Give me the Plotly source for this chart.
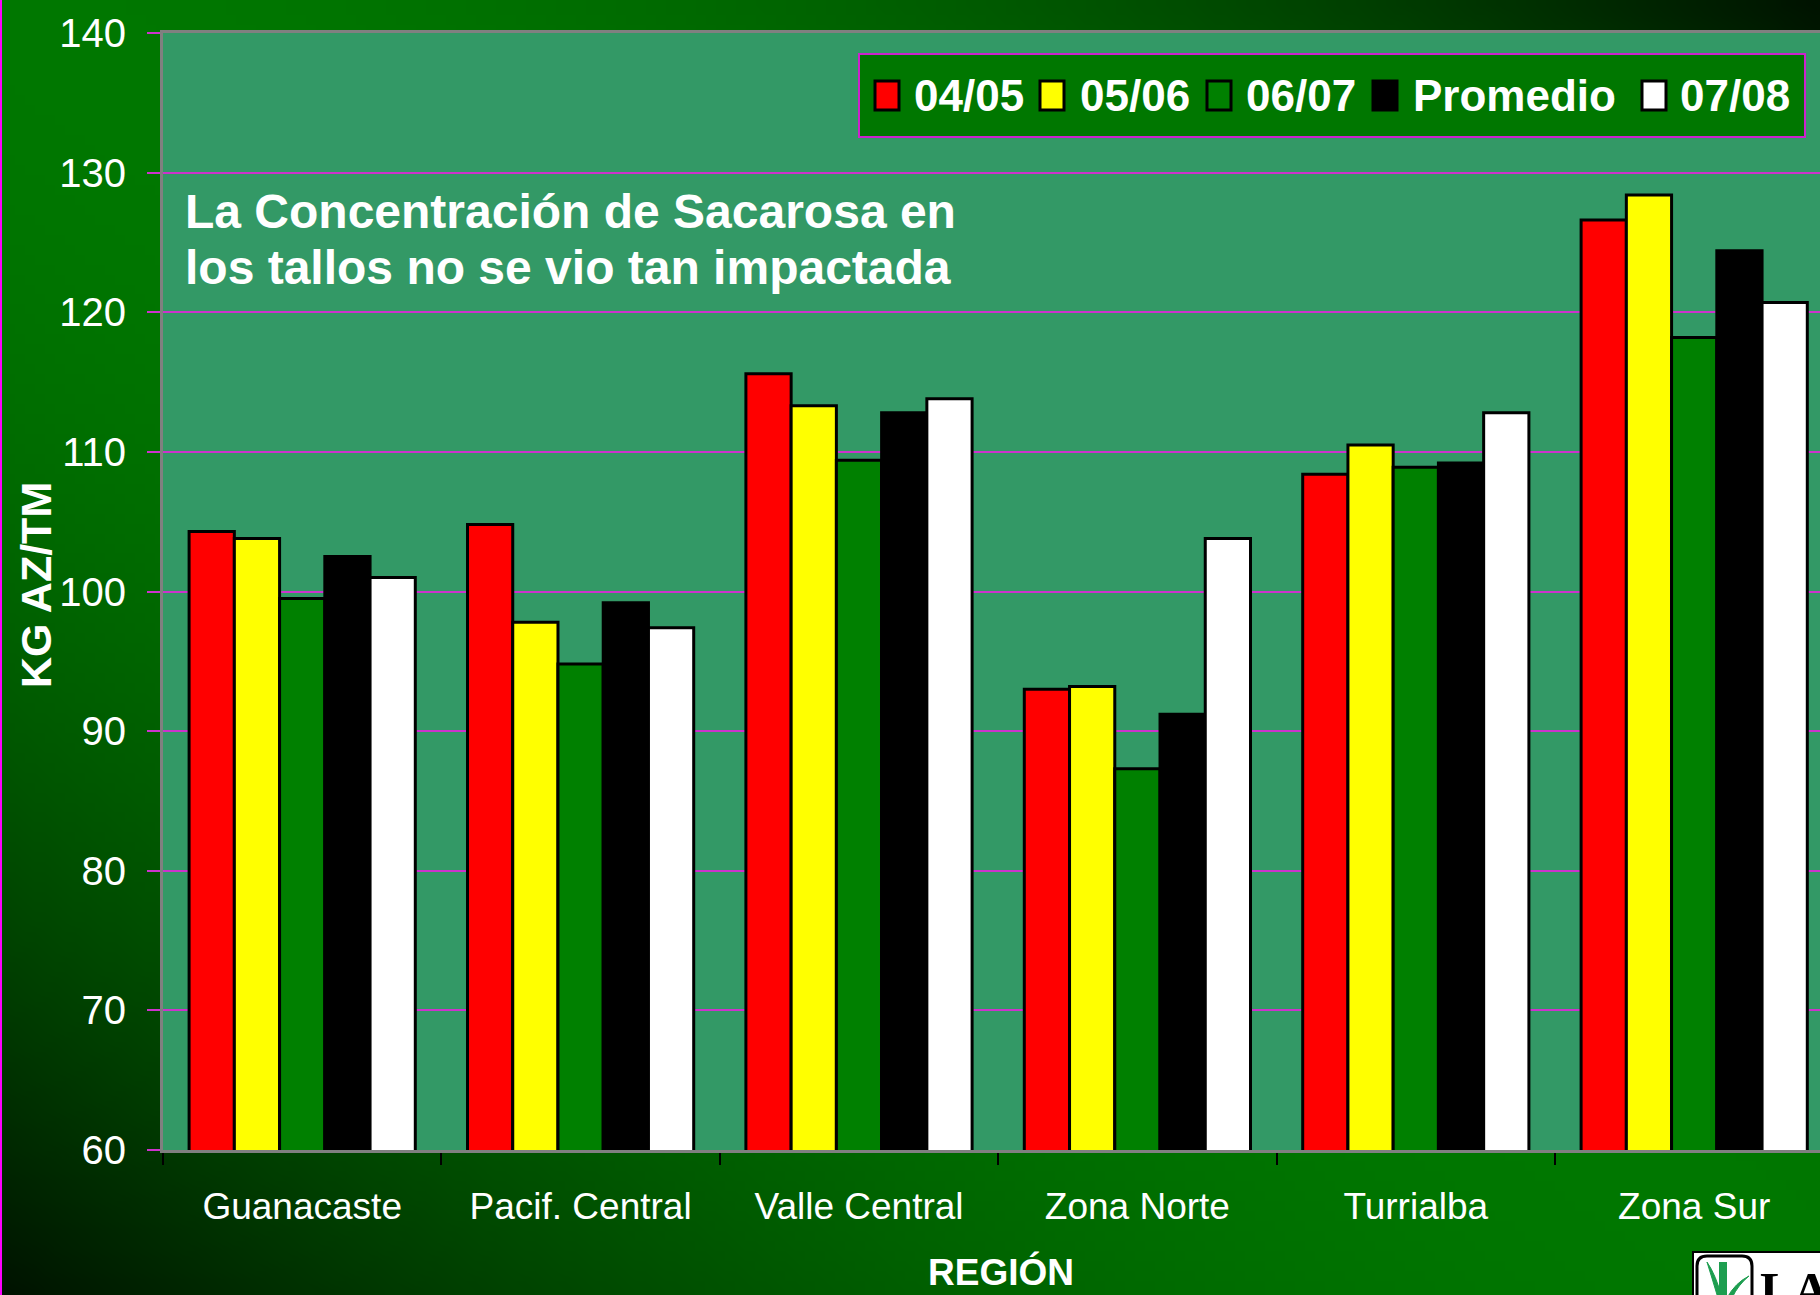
import base64
import struct
import zlib
import plotly.graph_objects as go

# ---------------- data ----------------
categories = ["Guanacaste", "Pacif. Central", "Valle Central", "Zona Norte", "Turrialba", "Zona Sur"]
series_names = ["04/05", "05/06", "06/07", "Promedio", "07/08"]
v_0405 = [104.3, 104.8, 115.6, 93.0, 108.4, 126.6]
v_0506 = [103.8, 97.8, 113.3, 93.2, 110.5, 128.4]
v_0607 = [99.5, 94.8, 109.4, 87.3, 108.9, 118.2]
v_prom = [102.5, 99.2, 112.8, 91.2, 109.2, 124.4]
v_0708 = [101.0, 97.4, 113.8, 103.8, 112.8, 120.7]
y_ticks = [60, 70, 80, 90, 100, 110, 120, 130, 140]

series_values = [v_0405, v_0506, v_0607, v_prom, v_0708]
series_colors = ["#FF0000", "#FFFF00", "#008000", "#000000", "#FFFFFF"]

# ---------------- geometry ----------------
W, H = 1820, 1295
L, R, T, B = 163, 1820, 33, 1150
PW, PH = R - L, B - T
CAT_PX = 278.4

def px2x(px):
    return (px - L) / PW

def py2y(py):
    return (B - py) / PH

FONT = "Liberation Sans, Arial, Helvetica, sans-serif"

# ---------------- background gradient (PNG) ----------------
def png_data_uri(w, h, rows):
    raw = b"".join(b"\x00" + bytes(row) for row in rows)

    def chunk(tag, data):
        c = struct.pack(">I", len(data)) + tag + data
        return c + struct.pack(">I", zlib.crc32(tag + data) & 0xFFFFFFFF)

    png = (b"\x89PNG\r\n\x1a\n"
           + chunk(b"IHDR", struct.pack(">IIBBBBB", w, h, 8, 2, 0, 0, 0))
           + chunk(b"IDAT", zlib.compress(raw, 9))
           + chunk(b"IEND", b""))
    return "data:image/png;base64," + base64.b64encode(png).decode()

gw, gh = 182, 130
rows = []
for j in range(gh):
    row = []
    for i in range(gw):
        d = (i + 0.5) / gw - (j + 0.5) / gh
        g = int(round(119 * max(0.0, 1 - 0.85 * d * d)))
        row += [0, g, 0]
    rows.append(row)
bg_uri = png_data_uri(gw, gh, rows)

# ---------------- figure ----------------
fig = go.Figure()
for name, vals, col in zip(series_names, series_values, series_colors):
    fig.add_trace(go.Bar(
        x=categories, y=vals, name=name,
        marker=dict(color=col, line=dict(color="#000000", width=3)),
        showlegend=False,
    ))

shapes = []
annotations = []

# plot area fill
shapes.append(dict(type="rect", xref="paper", yref="paper", x0=0, x1=1, y0=0, y1=1,
                   fillcolor="#339966", line=dict(width=0), layer="below"))
# left magenta border of slide
shapes.append(dict(type="line", xref="paper", yref="paper", x0=px2x(1), x1=px2x(1),
                   y0=py2y(0), y1=py2y(H), line=dict(color="#FF00FF", width=2)))

# custom legend
shapes.append(dict(type="rect", xref="paper", yref="paper",
                   x0=px2x(859), x1=px2x(1805), y0=py2y(54), y1=py2y(137),
                   fillcolor="#007700", line=dict(color="#CC22CC", width=2)))
sym_left = [875, 1040, 1207, 1373, 1642]
txt_left = [912, 1078, 1244, 1411, 1678]
for name, col, sx, tx in zip(series_names, series_colors, sym_left, txt_left):
    shapes.append(dict(type="rect", xref="paper", yref="paper",
                       x0=px2x(sx), x1=px2x(sx + 24), y0=py2y(81), y1=py2y(110),
                       fillcolor=col, line=dict(color="#000000", width=3)))
    annotations.append(dict(xref="paper", yref="paper", x=px2x(tx), y=py2y(95),
                            xanchor="left", yanchor="middle", showarrow=False,
                            text="<b>%s</b>" % name,
                            font=dict(family=FONT, size=44, color="#FFFFFF")))

# text box in chart (two lines, tight spacing)
note_lines = ["La Concentración de Sacarosa en", "los tallos no se vio tan impactada"]
for line, cy in zip(note_lines, [212, 267]):
    annotations.append(dict(xref="paper", yref="paper", x=px2x(183), y=py2y(cy),
                            xanchor="left", yanchor="middle", align="left", showarrow=False,
                            text="<b>%s</b>" % line,
                            font=dict(family=FONT, size=48, color="#FFFFFF")))

# axis titles
annotations.append(dict(xref="paper", yref="paper", x=px2x(36), y=py2y(585),
                        xanchor="center", yanchor="middle", textangle=-90, showarrow=False,
                        text="<b>KG AZ/TM</b>",
                        font=dict(family=FONT, size=43, color="#FFFFFF")))
annotations.append(dict(xref="paper", yref="paper", x=px2x(1001), y=py2y(1272),
                        xanchor="center", yanchor="middle", showarrow=False,
                        text="<b>REGIÓN</b>",
                        font=dict(family=FONT, size=37, color="#FFFFFF")))

# logo (partially visible at bottom-right)
shapes.append(dict(type="rect", xref="paper", yref="paper",
                   x0=px2x(1693), x1=px2x(1840), y0=py2y(1252), y1=py2y(1310),
                   fillcolor="#FFFFFF", line=dict(color="#000000", width=2)))
rr = 10
def P(px, py):
    return "%.5f,%.5f" % (px2x(px), py2y(py))
logo_path = ("M " + P(1697 + rr, 1256) + " L " + P(1752 - rr, 1256)
             + " Q " + P(1752, 1256) + " " + P(1752, 1256 + rr)
             + " L " + P(1752, 1310) + " L " + P(1697, 1310) + " L " + P(1697, 1256 + rr)
             + " Q " + P(1697, 1256) + " " + P(1697 + rr, 1256) + " Z")
shapes.append(dict(type="path", xref="paper", yref="paper", path=logo_path,
                   fillcolor="#FFFFFF", line=dict(color="#000000", width=3)))
stalk = ("M " + P(1719, 1262) + " L " + P(1727, 1262) + " L " + P(1727, 1300)
         + " L " + P(1719, 1300) + " Z")
shapes.append(dict(type="path", xref="paper", yref="paper", path=stalk,
                   fillcolor="#1E9E50", line=dict(width=0)))
leaf1 = ("M " + P(1707, 1262) + " Q " + P(1716, 1275) + " " + P(1722, 1298)
         + " L " + P(1718, 1298) + " Q " + P(1712, 1278) + " " + P(1707, 1262) + " Z")
shapes.append(dict(type="path", xref="paper", yref="paper", path=leaf1,
                   fillcolor="#1E9E50", line=dict(color="#1E9E50", width=1)))
leaf2 = ("M " + P(1749, 1276) + " Q " + P(1735, 1283) + " " + P(1727, 1298)
         + " L " + P(1732, 1298) + " Q " + P(1738, 1285) + " " + P(1749, 1276) + " Z")
shapes.append(dict(type="path", xref="paper", yref="paper", path=leaf2,
                   fillcolor="#1E9E50", line=dict(color="#1E9E50", width=1)))
annotations.append(dict(xref="paper", yref="paper", x=px2x(1758), y=py2y(1260),
                        xanchor="left", yanchor="top", showarrow=False,
                        text="<b>LA</b>",
                        font=dict(family="Liberation Serif, Times New Roman, serif", size=50, color="#000000")))

fig.update_layout(
    width=W, height=H,
    margin=dict(l=L, r=W - R, t=T, b=H - B, pad=0),
    paper_bgcolor="#004400",
    plot_bgcolor="rgba(0,0,0,0)",
    barmode="group", bargap=0.1875, bargroupgap=0,
    font=dict(family=FONT, color="#FFFFFF"),
    shapes=shapes, annotations=annotations,
    images=[dict(source=bg_uri, xref="paper", yref="paper",
                 x=px2x(0), y=py2y(0), sizex=W / PW, sizey=H / PH,
                 xanchor="left", yanchor="top", sizing="stretch", layer="below")],
    xaxis=dict(
        type="category", range=[-0.5, -0.5 + PW / CAT_PX],
        tickson="boundaries", ticks="outside", ticklen=12, tickwidth=1.5, tickcolor="#000000",
        showline=True, linecolor="#808080", linewidth=3, mirror=True,
        showgrid=False, zeroline=False,
        tickfont=dict(family=FONT, size=37, color="#FFFFFF"),
        ticklabelstandoff=22,
    ),
    yaxis=dict(
        range=[60, 140], tickvals=y_ticks, ticktext=[str(v) for v in y_ticks],
        ticks="outside", ticklen=13, tickwidth=2, tickcolor="#CC33CC",
        showline=True, linecolor="#808080", linewidth=3,
        showgrid=True, gridcolor="#CC33CC", gridwidth=1.5, zeroline=False,
        tickfont=dict(family=FONT, size=40, color="#FFFFFF"),
        ticklabelstandoff=13,
    ),
)

fig.write_html("out.html", config={"displayModeBar": False},
               post_script="document.body.style.margin='0';document.body.style.overflow='hidden';")
